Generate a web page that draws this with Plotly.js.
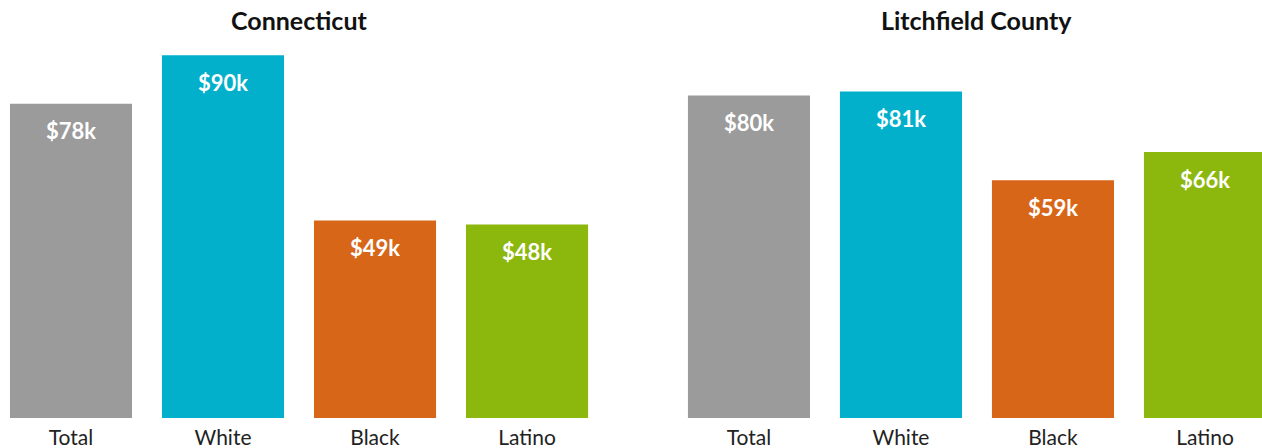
<!DOCTYPE html>
<html>
<head>
<meta charset="utf-8">
<script src="https://cdn.plot.ly/plotly-3.0.1.min.js"></script>
<style>html,body{margin:0;padding:0;background:#fff;}#chart{width:1262px;height:448px;}</style>
</head>
<body>
<div id="chart"></div>
<script>
const categories = ["Total", "White", "Black", "Latino"];
const connecticutValues = [78, 90, 49, 48];
const litchfieldValues = [80, 81, 59, 66];
const panelTitles = ["Connecticut", "Litchfield County"];
const barColors = ["#9b9b9b", "#03b0cb", "#d86619", "#8cb80d"];

const FONT = "Lato, 'Source Sans Pro', 'Noto Sans', sans-serif";
const fmt = v => "$" + v + "k";

const traces = [
  {type: "bar", x: categories, y: connecticutValues, xaxis: "x", yaxis: "y",
   marker: {color: barColors}, hoverinfo: "none", showlegend: false},
  {type: "bar", x: categories, y: litchfieldValues, xaxis: "x2", yaxis: "y2",
   marker: {color: barColors}, hoverinfo: "none", showlegend: false}
];

const annotations = [];
[[connecticutValues, "x", "y"], [litchfieldValues, "x2", "y2"]].forEach(([vals, xa, ya]) => {
  vals.forEach((v, i) => {
    annotations.push({x: categories[i], y: v, xref: xa, yref: ya, text: "<b>" + fmt(v) + "</b>",
      showarrow: false, yanchor: "middle", yshift: -27,
      font: {family: FONT, size: 22, color: "#ffffff"}});
  });
});
annotations.push({x: 1.5, y: 1, xref: "x", yref: "paper", yanchor: "middle", yshift: -5, text: "<b>" + panelTitles[0] + "</b>",
  showarrow: false, font: {family: FONT, size: 25, color: "#111"}});
annotations.push({x: 1.5, y: 1, xref: "x2", yref: "paper", yanchor: "middle", yshift: -5, text: "<b>" + panelTitles[1] + "</b>",
  showarrow: false, font: {family: FONT, size: 25, color: "#111"}});

const axisCommon = {type: "category", showgrid: false, zeroline: false, showline: false, ticks: "",
  ticklabelstandoff: 5,
  tickfont: {family: FONT, size: 21, color: "#222"}, fixedrange: true};
const yCommon = {range: [0, 100], showgrid: false, zeroline: false, showline: false, showticklabels: false, fixedrange: true};

const layout = {
  width: 1262, height: 448,
  margin: {l: 0, r: 0, t: 15, b: 30},
  paper_bgcolor: "#fff", plot_bgcolor: "#fff",
  bargap: 0.197,
  xaxis: Object.assign({}, axisCommon, {domain: [0, 0.5], range: [-0.467, 3.684], anchor: "y"}),
  xaxis2: Object.assign({}, axisCommon, {domain: [0.5, 1], range: [-0.776, 3.375], anchor: "y2"}),
  yaxis: Object.assign({}, yCommon, {anchor: "x"}),
  yaxis2: Object.assign({}, yCommon, {anchor: "x2"}),
  annotations: annotations
};

Plotly.newPlot("chart", traces, layout, {displayModeBar: false, staticPlot: true});
</script>
</body>
</html>
